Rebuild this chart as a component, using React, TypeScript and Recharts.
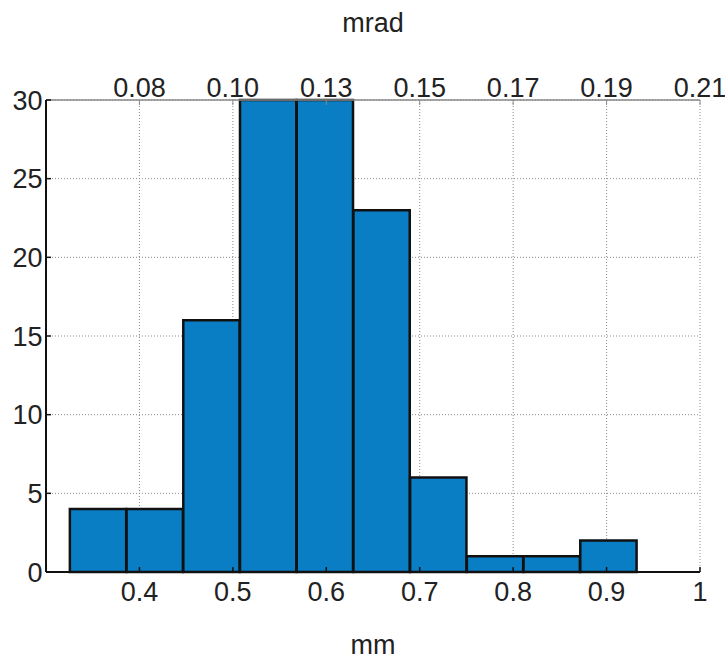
import React from 'react';
import { ComposedChart, Bar, XAxis, YAxis, CartesianGrid } from 'recharts';

// histogram bins (centres in mm) and counts
const binCenters = [0.3559, 0.4166, 0.4773, 0.5380, 0.5987, 0.6594, 0.7201, 0.7808, 0.8415, 0.9022];
const counts = [4, 4, 16, 30, 30, 23, 6, 1, 1, 2];
const binWidth = 0.0607;

const mmTicks = [0.4, 0.5, 0.6, 0.7, 0.8, 0.9, 1.0];
const mradLabels = ['0.08', '0.10', '0.13', '0.15', '0.17', '0.19', '0.21'];
const countTicks = [0, 5, 10, 15, 20, 25, 30];

const xDomain: [number, number] = [0.3, 1.0];

const W = 725;
const H = 661;
const margin = { top: 0, right: 25, left: 0, bottom: 0 };
const yAxisW = 46;
const plotW = W - margin.left - margin.right - yAxisW;

const data = binCenters.map((x, i) => ({ x, count: counts[i] }));

const font = '"Liberation Sans", Arial, sans-serif';
const tickStyle = { fontSize: 27, fill: '#222', fontFamily: font };

export default function App() {
    // a hair under the band so recharts doesn't fall back to its category gap
    const barSize = (binWidth / (xDomain[1] - xDomain[0])) * plotW - 0.4;

    return (
        <div style={{ position: 'absolute', left: 0, top: 0, background: '#fff' }}>
            <ComposedChart
                width={W}
                height={H}
                data={data}
                margin={margin}
                barCategoryGap={0}
                barGap={0}
            >
                <CartesianGrid
                    xAxisId="bottom"
                    strokeDasharray="1 2"
                    stroke="#8a8a8a"
                />

                <XAxis
                    xAxisId="bottom"
                    dataKey="x"
                    type="number"
                    domain={xDomain}
                    ticks={mmTicks}
                    tickFormatter={(v) => (v === 1 ? '1' : v.toFixed(1))}
                    height={89}
                    tickSize={-5}
                    tickMargin={15}
                    tick={tickStyle}
                    axisLine={{ stroke: '#111', strokeWidth: 2 }}
                    tickLine={{ stroke: '#111', strokeWidth: 1.5 }}
                    label={{ value: 'mm', position: 'insideBottom', offset: 7, fontSize: 27, fill: '#222', fontFamily: font }}
                />

                <XAxis
                    xAxisId="top"
                    orientation="top"
                    dataKey="x"
                    type="number"
                    domain={xDomain}
                    ticks={mmTicks}
                    tickFormatter={(v, i) => mradLabels[i]}
                    height={100}
                    tickSize={-5}
                    tickMargin={8}
                    tick={tickStyle}
                    axisLine={{ stroke: '#8a8a8a', strokeWidth: 1.5 }}
                    tickLine={{ stroke: '#8a8a8a', strokeWidth: 1 }}
                    label={{ value: 'mrad', position: 'insideTop', offset: 13, fontSize: 27, fill: '#222', fontFamily: font }}
                />

                <YAxis
                    domain={[0, 30]}
                    ticks={countTicks}
                    width={yAxisW}
                    tickSize={-5}
                    tickMargin={8.5}
                    tick={tickStyle}
                    axisLine={{ stroke: '#111', strokeWidth: 2 }}
                    tickLine={{ stroke: '#111', strokeWidth: 1.5 }}
                />

                <Bar
                    xAxisId="bottom"
                    dataKey="count"
                    barSize={barSize}
                    fill="#0a7ec4"
                    stroke="#111"
                    strokeWidth={2.5}
                    isAnimationActive={false}
                />
            </ComposedChart>
        </div>
    );
}
